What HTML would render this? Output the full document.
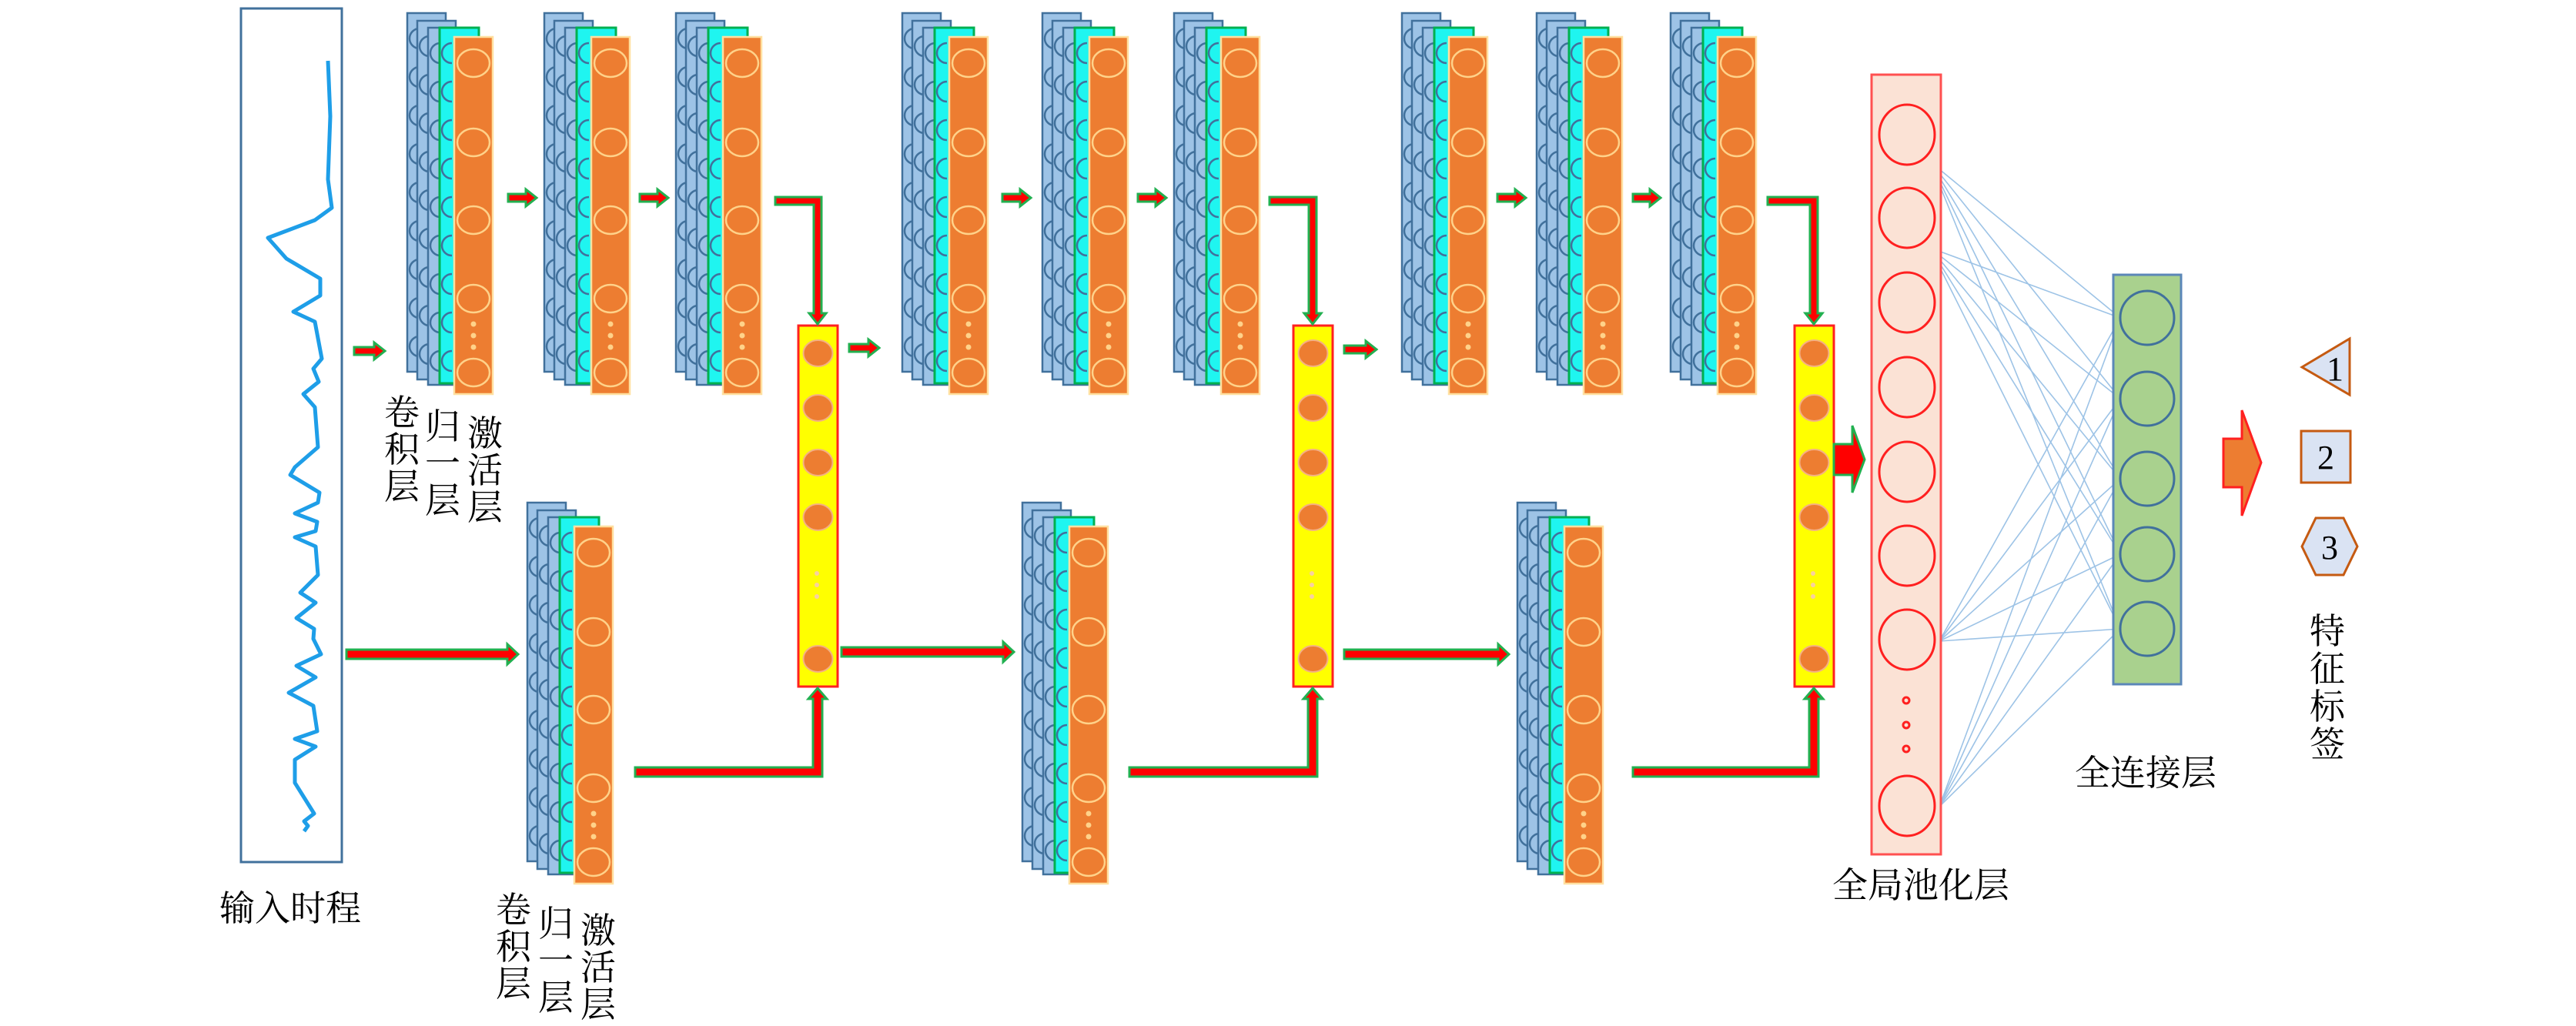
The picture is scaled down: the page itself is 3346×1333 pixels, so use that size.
<!DOCTYPE html>
<html><head><meta charset="utf-8"><style>html,body{margin:0;padding:0;background:#fff}svg{display:block}</style></head>
<body>
<svg width="3346" height="1333" viewBox="0 0 3346 1333" xmlns="http://www.w3.org/2000/svg" font-family="'Liberation Serif','Noto Serif CJK SC',serif">
<defs>
<g id="arcs" fill="none" stroke="#41719c" stroke-width="2.5">
<path d="M16,20 A13,13 0 0 0 16,46 M16,70 A13,13 0 0 0 16,96 M16,120 A13,13 0 0 0 16,146 M16,170 A13,13 0 0 0 16,196 M16,220 A13,13 0 0 0 16,246 M16,270 A13,13 0 0 0 16,296 M16,320 A13,13 0 0 0 16,346 M16,370 A13,13 0 0 0 16,396 M16,420 A13,13 0 0 0 16,446"/>
</g>
<g id="stack">
<rect x="0" y="0" width="50" height="466" fill="#9dc3e6" stroke="#41719c" stroke-width="2.5"/>
<use href="#arcs" x="0" y="0"/>
<rect x="13" y="10" width="50" height="466" fill="#9dc3e6" stroke="#41719c" stroke-width="2.5"/>
<use href="#arcs" x="13" y="10"/>
<rect x="27" y="19" width="50" height="464" fill="#9dc3e6" stroke="#41719c" stroke-width="2.5"/>
<use href="#arcs" x="27" y="19"/>
<rect x="42" y="19" width="51" height="462" fill="#1ff5f0" stroke="#00b050" stroke-width="3"/>
<use href="#arcs" x="42" y="19"/>
<rect x="61" y="31" width="50" height="464" fill="#ed7d31" stroke="#ffe0a0" stroke-width="2.5"/>
<g fill="none" stroke="#ffd28a" stroke-width="2.5">
<ellipse cx="86" cy="65" rx="21" ry="18"/>
<ellipse cx="86" cy="168" rx="21" ry="18"/>
<ellipse cx="86" cy="269" rx="21" ry="18"/>
<ellipse cx="86" cy="371" rx="21" ry="18"/>
<ellipse cx="86" cy="467" rx="21" ry="18"/>
</g>
<g fill="#ffd28a"><circle cx="86" cy="404" r="3.5"/><circle cx="86" cy="419" r="3.5"/><circle cx="86" cy="434" r="3.5"/></g>
</g>
<g id="ybox">
<rect x="0" y="0" width="51" height="469" fill="#ffff00" stroke="#ff2020" stroke-width="3"/>
<g fill="#ed7d31" stroke="#f4b183" stroke-width="2">
<ellipse cx="25.5" cy="36" rx="19" ry="17"/>
<ellipse cx="25.5" cy="107" rx="19" ry="17"/>
<ellipse cx="25.5" cy="178" rx="19" ry="17"/>
<ellipse cx="25.5" cy="249" rx="19" ry="17"/>
<ellipse cx="25.5" cy="433" rx="19" ry="17"/>
</g>
<g fill="#f8d0a0"><circle cx="24" cy="322" r="3"/><circle cx="24" cy="337" r="3"/><circle cx="24" cy="352" r="3"/></g>
</g>
</defs>

<!-- input box -->
<rect x="313" y="11" width="131" height="1109" fill="#fff" stroke="#41719c" stroke-width="3"/>
<polyline fill="none" stroke="#1e9ee8" stroke-width="5" stroke-linejoin="round" points="426,79 429,151 426,233 431,270 409,286 348,309 372,336 416,362 416,384 381,405 409,418 418,466 407,479 414,496 394,512 409,529 413,581 383,607 377,617 415,640 413,653 383,667 412,678 410,690 383,698 410,710 413,747 390,770 410,783 385,803 408,817 407,830 417,850 385,865 410,880 375,900 407,917 412,950 383,960 410,970 383,987 383,1017 408,1057 395,1067 400,1073 395,1080"/>

<!-- top stacks -->
<use href="#stack" x="529" y="17"/>
<use href="#stack" x="707" y="17"/>
<use href="#stack" x="878" y="17"/>
<use href="#stack" x="1172" y="17"/>
<use href="#stack" x="1354" y="17"/>
<use href="#stack" x="1525" y="17"/>
<use href="#stack" x="1821" y="17"/>
<use href="#stack" x="1996" y="17"/>
<use href="#stack" x="2170" y="17"/>
<!-- bottom stacks -->
<use href="#stack" x="685" y="653"/>
<use href="#stack" x="1328" y="653"/>
<use href="#stack" x="1971" y="653"/>

<!-- yellow boxes -->
<use href="#ybox" x="1037" y="423"/>
<use href="#ybox" x="1680" y="423"/>
<use href="#ybox" x="2331" y="423"/>

<!-- arrows -->
<g fill="#ff0000" stroke="#22b050" stroke-width="3" stroke-linejoin="miter">
<path d="M460,451 L486,451 L486,445 L500,456 L486,467 L486,461 L460,461 Z"/>
<path d="M660,252 L683,252 L683,246 L697,257 L683,268 L683,262 L660,262 Z"/>
<path d="M831,252 L854,252 L854,246 L868,257 L854,268 L854,262 L831,262 Z"/>
<path d="M1103,447 L1128,447 L1128,441 L1142,452 L1128,463 L1128,457 L1103,457 Z"/>
<path d="M1302,252 L1325,252 L1325,246 L1339,257 L1325,268 L1325,262 L1302,262 Z"/>
<path d="M1478,252 L1501,252 L1501,246 L1515,257 L1501,268 L1501,262 L1478,262 Z"/>
<path d="M1746,449 L1774,449 L1774,443 L1788,454 L1774,465 L1774,459 L1746,459 Z"/>
<path d="M1945,252 L1968,252 L1968,246 L1982,257 L1968,268 L1968,262 L1945,262 Z"/>
<path d="M2121,252 L2143,252 L2143,246 L2157,257 L2143,268 L2143,262 L2121,262 Z"/>
<path d="M450,844 L659,844 L659,837 L673,850 L659,863 L659,856 L450,856 Z"/>
<path d="M1093,841 L1303,841 L1303,834 L1317,847 L1303,860 L1303,853 L1093,853 Z"/>
<path d="M1746,844 L1946,844 L1946,837 L1960,850 L1946,863 L1946,856 L1746,856 Z"/>
<!-- elbow down -->
<path d="M1007,256 L1067,256 L1067,407 L1073,407 L1062,421 L1051,407 L1057,407 L1057,266 L1007,266 Z"/>
<path d="M1649,256 L1710,256 L1710,407 L1716,407 L1705,421 L1694,407 L1700,407 L1700,266 L1649,266 Z"/>
<path d="M2296,256 L2361,256 L2361,407 L2367,407 L2356,421 L2345,407 L2351,407 L2351,266 L2296,266 Z"/>
<!-- elbow up -->
<path d="M825,1009 L1068,1009 L1068,908 L1074,908 L1062,894 L1050,908 L1056,908 L1056,997 L825,997 Z"/>
<path d="M1467,1009 L1711,1009 L1711,908 L1717,908 L1705,894 L1693,908 L1699,908 L1699,997 L1467,997 Z"/>
<path d="M2121,1009 L2362,1009 L2362,908 L2368,908 L2356,894 L2344,908 L2350,908 L2350,997 L2121,997 Z"/>
<!-- big red arrow -->
<path d="M2382,577 L2406,577 L2406,553 L2422,597 L2406,640 L2406,617 L2382,617 Z"/>
</g>

<!-- fully connected lines -->
<g stroke="#9dc3e6" stroke-width="1.6">
<line x1="2507" y1="210" x2="2754" y2="413"/><line x1="2507" y1="210" x2="2754" y2="518"/><line x1="2507" y1="210" x2="2754" y2="622"/><line x1="2507" y1="210" x2="2754" y2="720"/><line x1="2507" y1="210" x2="2754" y2="817"/>
<line x1="2507" y1="322" x2="2754" y2="413"/><line x1="2507" y1="322" x2="2754" y2="518"/><line x1="2507" y1="322" x2="2754" y2="622"/><line x1="2507" y1="322" x2="2754" y2="720"/><line x1="2507" y1="322" x2="2754" y2="817"/>
<line x1="2519" y1="833" x2="2754" y2="413"/><line x1="2519" y1="833" x2="2754" y2="518"/><line x1="2519" y1="833" x2="2754" y2="622"/><line x1="2519" y1="833" x2="2754" y2="720"/><line x1="2519" y1="833" x2="2754" y2="817"/>
<line x1="2519" y1="1048" x2="2754" y2="413"/><line x1="2519" y1="1048" x2="2754" y2="518"/><line x1="2519" y1="1048" x2="2754" y2="622"/><line x1="2519" y1="1048" x2="2754" y2="720"/><line x1="2519" y1="1048" x2="2754" y2="817"/>
</g>

<!-- global pooling -->
<rect x="2431" y="97" width="90" height="1013" fill="#fbe2d5" stroke="#ff5050" stroke-width="3"/>
<g fill="none" stroke="#ff2020" stroke-width="3">
<ellipse cx="2477" cy="175" rx="36" ry="39"/>
<ellipse cx="2477" cy="283" rx="36" ry="39"/>
<ellipse cx="2477" cy="393" rx="36" ry="39"/>
<ellipse cx="2477" cy="503" rx="36" ry="39"/>
<ellipse cx="2477" cy="613" rx="36" ry="39"/>
<ellipse cx="2477" cy="722" rx="36" ry="39"/>
<ellipse cx="2477" cy="831" rx="36" ry="39"/>
<ellipse cx="2477" cy="1047" rx="36" ry="39"/>
<circle cx="2476" cy="910" r="4"/><circle cx="2476" cy="942" r="4"/><circle cx="2476" cy="973" r="4"/>
</g>

<!-- FC -->
<rect x="2745" y="357" width="88" height="532" fill="#a9d18e" stroke="#5b87b8" stroke-width="3"/>
<g fill="none" stroke="#41719c" stroke-width="3">
<circle cx="2789" cy="413" r="35"/><circle cx="2789" cy="518" r="35"/><circle cx="2789" cy="622" r="35"/><circle cx="2789" cy="720" r="35"/><circle cx="2789" cy="817" r="35"/>
</g>

<!-- orange arrow -->
<path d="M2888,570 L2912,570 L2912,533 L2937,601 L2912,670 L2912,633 L2888,633 Z" fill="#ed7d31" stroke="#ff2020" stroke-width="3"/>

<!-- labels shapes -->
<g fill="#dae3f3" stroke="#c55a11" stroke-width="3">
<polygon points="2990,477 3052,440 3052,513"/>
<rect x="2989" y="560" width="64" height="67"/>
<polygon points="3008,673 3044,673 3062,710 3044,747 3008,747 2990,710"/>
</g>
<g font-size="44" fill="#000" text-anchor="middle">
<text x="3033" y="494">1</text>
<text x="3021" y="609">2</text>
<text x="3026" y="726">3</text>
</g>

<!-- texts -->
<g font-family="'Liberation Serif','Noto Serif CJK SC',serif" font-size="46" fill="#000" text-anchor="middle">
<text x="377" y="1196">输入时程</text>
<text x="522" y="552">卷</text><text x="522" y="600">积</text><text x="522" y="648">层</text>
<text x="575" y="570">归</text><text x="575" y="618">一</text><text x="575" y="666">层</text>
<text x="630" y="579">激</text><text x="630" y="627">活</text><text x="630" y="675">层</text>
<text x="667" y="1198">卷</text><text x="667" y="1246">积</text><text x="667" y="1294">层</text>
<text x="722" y="1216">归</text><text x="722" y="1264">一</text><text x="722" y="1312">层</text>
<text x="777" y="1225">激</text><text x="777" y="1273">活</text><text x="777" y="1321">层</text>
<text x="2495" y="1166">全局池化层</text>
<text x="2787" y="1020">全连接层</text>
<text x="3023" y="836">特</text><text x="3023" y="885">征</text><text x="3023" y="934">标</text><text x="3023" y="983">签</text>
</g>
</svg>
</body></html>
